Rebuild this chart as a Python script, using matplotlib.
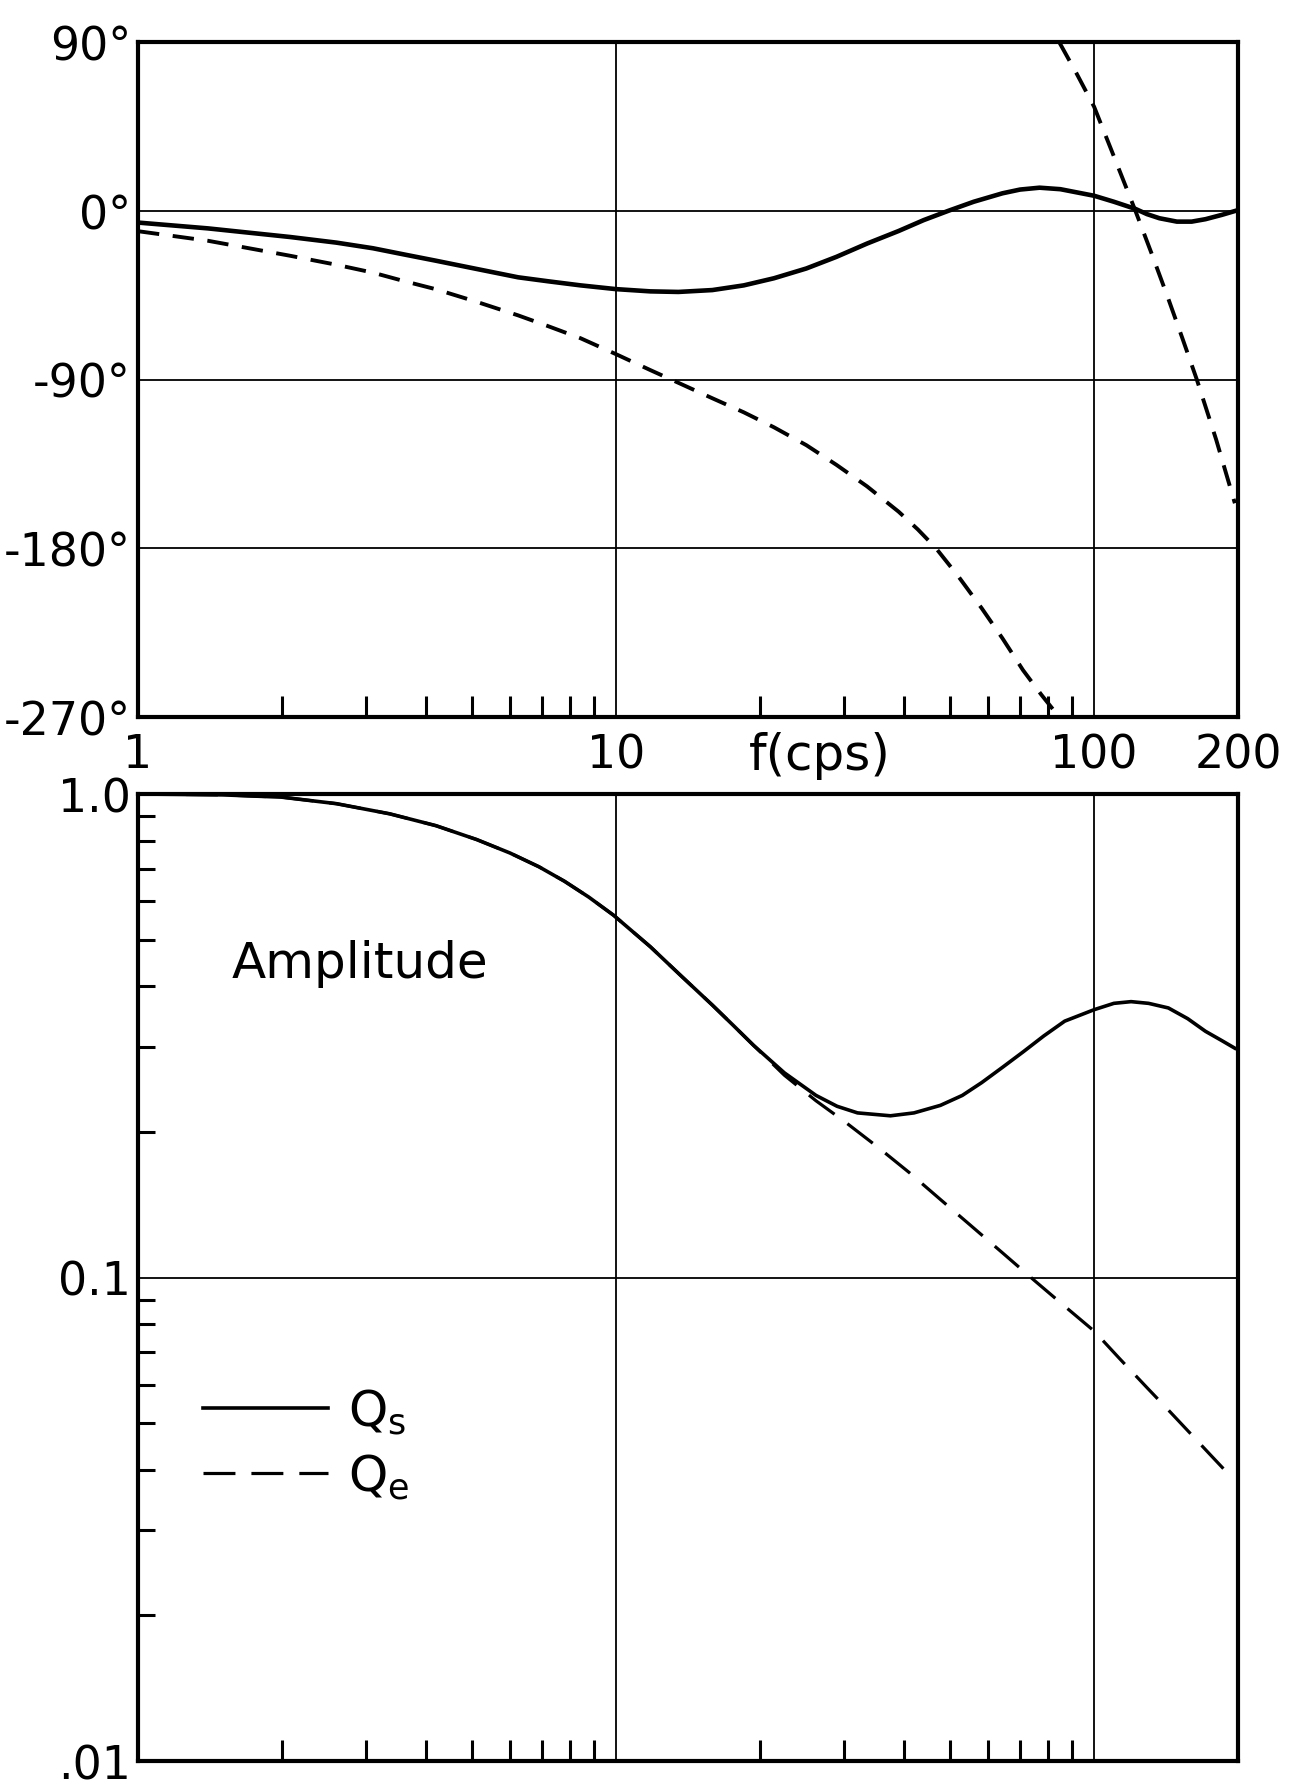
import numpy as np
import matplotlib
matplotlib.use('Agg')
import matplotlib.pyplot as plt
from matplotlib.ticker import FixedLocator, FixedFormatter, NullFormatter

plt.rcParams['font.family'] = ['DejaVu Sans']
plt.rcParams['mathtext.fontset'] = 'dejavusans'

# ---------------- data ----------------
# Phase of Qs (degrees)
phase_s_f = [1.0, 1.4, 2.08, 2.6, 3.1, 3.6, 4.19, 5.1, 6.24, 7.2, 8.43, 10.0, 11.8,
             13.5, 15.9, 18.5, 21.4, 25.0, 28.9, 33.5, 39.0, 44.0, 49.6, 56.0, 64.3,
             70.0, 76.9, 85.0, 100, 110, 122, 129, 137, 149, 160, 171, 185, 201]
phase_s = [-6.3, -9.4, -14, -17, -20, -23.3, -26.6, -31, -35.5, -37.6, -39.8, -41.8, -43,
           -43.3, -42.3, -39.8, -36, -30.8, -24.6, -17.5, -10.8, -5, 0, 4.8, 9.3,
           11.3, 12.3, 11.5, 8, 4.8, 1, -1.8, -4, -5.8, -5.8, -4.5, -2.2, 0.5]

# Phase of Qe (degrees), first branch down to -270
phase_e1_f = [1.0, 1.4, 2.08, 2.6, 3.1, 3.6, 4.19, 5.1, 6.24, 7.2, 8.43, 10.0, 11.8,
              13.7, 15.9, 18.5, 21.4, 25.0, 28.9, 33.5, 39.0, 42.8, 46.7, 52.0, 58.2,
              64.3, 71.0, 77.5, 84.5]
phase_e1 = [-10.9, -16, -24, -28.8, -33, -37.5, -41.8, -48.5, -55.8, -61.5, -68, -76.5, -85,
            -92.5, -100, -107.5, -115.5, -125, -135.5, -147, -160.5, -170, -180, -195, -212,
            -228, -245, -258, -270]
# Phase of Qe, second branch (wrapped to +90)
phase_e2_f = [84.5, 92, 100, 110, 122, 132, 143, 153, 164, 180, 197]
phase_e2 = [90, 73, 55.5, 29, 0, -23, -47, -68, -90, -122, -156]

# Amplitude of Qs
amp_s_f = [1.0, 1.5, 2.0, 2.6, 3.36, 4.2, 5.11, 6.0, 6.9, 7.8, 8.77, 9.89, 11.8, 13.7,
           15.9, 17.6, 19.4, 22.5, 26.2, 29.0, 32.0, 37.5, 42.0, 47.7, 53.0, 58.2, 64.3,
           71.1, 78.5, 86.8, 100, 110, 119.5, 130, 143, 157, 171, 185, 197]
amp_s = [1.0, 0.996, 0.985, 0.955, 0.91, 0.86, 0.805, 0.755, 0.707, 0.66, 0.612, 0.561,
         0.483, 0.42, 0.366, 0.332, 0.302, 0.265, 0.238, 0.226, 0.219, 0.216, 0.219,
         0.227, 0.238, 0.253, 0.272, 0.293, 0.316, 0.339, 0.358, 0.369, 0.372, 0.369,
         0.361, 0.343, 0.323, 0.309, 0.298]

# Amplitude of Qe
amp_e_f = [1.0, 1.5, 2.0, 2.6, 3.36, 4.2, 5.11, 6.0, 6.9, 7.8, 8.77, 9.89, 11.8, 13.7,
           15.9, 17.6, 19.4, 22.5, 26.2, 30.1, 35.3, 41.0, 47.7, 55.0, 64.3, 75.0, 86.8,
           100, 113, 129.4, 143, 158, 175, 193]
amp_e = [1.0, 0.996, 0.985, 0.955, 0.91, 0.86, 0.805, 0.755, 0.707, 0.66, 0.612, 0.561,
         0.483, 0.42, 0.366, 0.332, 0.302, 0.262, 0.232, 0.210, 0.186, 0.165, 0.145,
         0.1285, 0.1125, 0.0986, 0.0872, 0.0775, 0.068, 0.059, 0.0532, 0.0479, 0.043, 0.0388]

x_label_vals = [1, 10, 100, 200]
x_labels = ['1', '10', '100', '200']
x_minor = [2, 3, 4, 5, 6, 7, 8, 9, 20, 30, 40, 50, 60, 70, 80, 90]
x_grid = [10, 100]

phase_ticks = [90, 0, -90, -180, -270]
phase_labels = ['90°', '0°', '-90°', '-180°', '-270°']
phase_grid = [0, -90, -180]

amp_ticks = [0.01, 0.1, 1.0]
amp_labels = ['.01', '0.1', '1.0']
amp_minor = [0.02, 0.03, 0.04, 0.05, 0.06, 0.07, 0.08, 0.09,
             0.2, 0.3, 0.4, 0.5, 0.6, 0.7, 0.8, 0.9]
amp_grid = [0.1]

legend_labels = ['Q$_{\\rm s}$', 'Q$_{\\rm e}$']

# ---------------- figure ----------------
W, H = 1300, 1790
fig = plt.figure(figsize=(W / 100, H / 100), dpi=100)
L, R = 138, 1238
ax1 = fig.add_axes([L / W, 1 - 718 / H, (R - L) / W, (718 - 43) / H])
ax2 = fig.add_axes([L / W, 1 - 1762 / H, (R - L) / W, (1762 - 795) / H])

FS = 33
FT = 36
for ax in (ax1, ax2):
    ax.set_xscale('log')
    ax.set_xlim(1, 200)
    for s in ax.spines.values():
        s.set_linewidth(3.0)
    for fx in x_grid:
        ax.axvline(fx, color='k', lw=1.3, zorder=1)
    ax.xaxis.set_major_locator(FixedLocator(x_label_vals))
    ax.xaxis.set_major_formatter(FixedFormatter(x_labels))
    ax.xaxis.set_minor_locator(FixedLocator(x_minor))
    ax.xaxis.set_minor_formatter(NullFormatter())
    ax.tick_params(axis='x', which='major', length=0, labelsize=FS, pad=11)
    ax.tick_params(axis='x', which='minor', direction='in', length=15, width=2.2)
    ax.tick_params(axis='y', which='major', length=0, labelsize=FS, pad=5)

# top panel: phase
ax1.set_ylim(-270, 90)
ax1.yaxis.set_major_locator(FixedLocator(phase_ticks))
ax1.yaxis.set_major_formatter(FixedFormatter(phase_labels))
for g in phase_grid:
    ax1.axhline(g, color='k', lw=1.3, zorder=1)
ax1.plot(phase_e1_f, phase_e1, color='k', lw=2.8, dashes=(5.5, 3.5), zorder=3)
ax1.plot(phase_e2_f, phase_e2, color='k', lw=2.8, dashes=(5.5, 3.5), zorder=3)
ax1.plot(phase_s_f, phase_s, color='k', lw=3.3, zorder=4, solid_capstyle='round',
         solid_joinstyle='round')
ax1.annotate('f(cps)', xy=(26.7, 0), xycoords=('data', 'axes fraction'),
             xytext=(0, -10), textcoords='offset points', ha='center', va='top',
             fontsize=FT)

# bottom panel: amplitude
ax2.set_yscale('log')
ax2.set_ylim(0.01, 1.0)
ax2.yaxis.set_major_locator(FixedLocator(amp_ticks))
ax2.yaxis.set_major_formatter(FixedFormatter(amp_labels))
ax2.yaxis.set_minor_locator(FixedLocator(amp_minor))
ax2.yaxis.set_minor_formatter(NullFormatter())
ax2.tick_params(axis='y', which='minor', direction='in', length=12, width=2.2)
ax2.tick_params(axis='x', which='major', labelbottom=False)
for g in amp_grid:
    ax2.axhline(g, color='k', lw=1.3, zorder=1)
le, = ax2.plot(amp_e_f, amp_e, color='k', lw=2.3, dashes=(10, 5), zorder=3)
ls, = ax2.plot(amp_s_f, amp_s, color='k', lw=2.6, zorder=4, solid_joinstyle='round')

ax2.text(0.0855, 0.825, 'Amplitude', transform=ax2.transAxes, fontsize=FT,
         ha='left', va='center')
ax2.legend([ls, le], legend_labels, loc='center left', bbox_to_anchor=(0.059, 0.328),
           frameon=False, fontsize=FT, handlelength=2.5, handletextpad=0.4,
           labelspacing=0.3, borderpad=0, borderaxespad=0)

fig.savefig('out.png', dpi=100)
